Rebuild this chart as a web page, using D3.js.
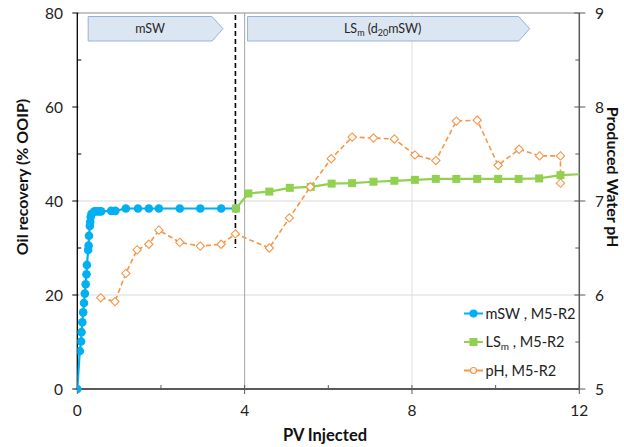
<!DOCTYPE html>
<html>
<head>
<meta charset="utf-8">
<script src="https://cdn.jsdelivr.net/npm/d3@7"></script>
<style>
  html, body { margin: 0; padding: 0; background: #fff; }
  svg { display: block; font-family: Lato, "Open Sans", sans-serif; }
</style>
</head>
<body>
<svg id="chart" width="624" height="447"></svg>
<script>
// PV injected vs. oil recovery (mSW then LSm flood) and produced water pH
const mswPV = [0, 0.06, 0.09, 0.10, 0.12, 0.14, 0.16, 0.18, 0.20, 0.22, 0.23, 0.26, 0.27, 0.28,
  0.30, 0.31, 0.32, 0.34, 0.41, 0.46, 0.52, 0.57, 0.81, 0.91, 1.16, 1.45, 1.71, 1.95, 2.45, 2.94, 3.44, 3.79];
const mswRecovery = [0, 8.1, 10.1, 12.1, 14.2, 16.3, 18.3, 20.3, 22.3, 24.4, 26.4, 29.6, 30.5, 32.6,
  34.7, 35.6, 36.6, 37.3, 37.8, 37.8, 37.8, 37.8, 37.9, 37.9, 38.4, 38.4, 38.4, 38.4, 38.4, 38.4, 38.4, 38.4];

const lsPV = [3.79, 4.09, 4.59, 5.08, 5.58, 6.08, 6.57, 7.08, 7.58, 8.07, 8.57, 9.06, 9.56, 10.06, 10.55, 11.04, 11.55, 12.3];
const lsRecovery = [38.4, 41.6, 42.0, 42.8, 43.0, 43.7, 43.8, 44.1, 44.3, 44.5, 44.7, 44.7, 44.7, 44.7, 44.7, 44.8, 45.5, 45.8];

const phPV = [0.56, 0.90, 1.16, 1.43, 1.71, 1.95, 2.45, 2.94, 3.44, 3.78, 4.59, 5.07, 5.57, 6.07, 6.57,
  7.08, 7.58, 8.07, 8.57, 9.06, 9.56, 10.06, 10.56, 11.05, 11.55, 11.55];
const phValues = [5.97, 5.93, 6.23, 6.48, 6.54, 6.69, 6.56, 6.52, 6.54, 6.65, 6.50, 6.82, 7.15, 7.45, 7.68,
  7.67, 7.66, 7.49, 7.43, 7.85, 7.86, 7.38, 7.55, 7.48, 7.48, 7.19];

const xTicks = [0, 4, 8, 12];
const xMinorTicks = [2, 6, 10];
const yTicks = [0, 20, 40, 60, 80];
const yMinorTicks = [10, 30, 50, 70];
const phTicks = [5, 6, 7, 8, 9];
const phMinorTicks = [5.5, 6.5, 7.5, 8.5];

const slugChange = 3.78;   // PV at which injection switched to LSm

const svg = d3.select("#chart");
const L = 77.3, R = 579.3, T = 13, B = 389;

const x = d3.scaleLinear().domain([0, 12]).range([L, R]);
const y = d3.scaleLinear().domain([0, 80]).range([B, T]);
const yPh = d3.scaleLinear().domain([5, 9]).range([B, T]);

// clip for the plotting area
svg.append("defs").append("clipPath").attr("id", "plotClip")
  .append("rect").attr("x", L).attr("y", T - 6).attr("width", R - L).attr("height", B - T + 12);

// gridlines
const grid = svg.append("g");
grid.selectAll("line.h").data([20, 40]).join("line")
  .attr("x1", L).attr("x2", R).attr("y1", d => y(d)).attr("y2", d => y(d))
  .attr("stroke", "#d9d9d9").attr("stroke-width", 1);
grid.append("line").attr("x1", x(8)).attr("x2", x(8)).attr("y1", T).attr("y2", B)
  .attr("stroke", "#dedede").attr("stroke-width", 1);
grid.append("line").attr("x1", x(4)).attr("x2", x(4)).attr("y1", T).attr("y2", B)
  .attr("stroke", "#a6a6a6").attr("stroke-width", 1);

// top border
svg.append("line").attr("x1", L).attr("x2", R).attr("y1", T).attr("y2", T)
  .attr("stroke", "#8c8c8c").attr("stroke-width", 1);

// phase arrows along the top
function phaseArrow(x0, x1) {
  const g = svg.append("g");
  const y0 = 16.5, y1 = 41, tip = 11;
  g.append("path")
    .attr("d", `M${x0},${y0}H${x1}L${x1 + tip},${(y0 + y1) / 2}L${x1},${y1}H${x0}Z`)
    .attr("fill", "#dce6f2").attr("stroke", "#95b3d7").attr("stroke-width", 1);
  return g.append("text").attr("x", (x0 + x1) / 2).attr("y", (y0 + y1) / 2 + 4.5)
    .attr("text-anchor", "middle").attr("font-size", 12.5).attr("fill", "#262626");
}
phaseArrow(x(0.26), x(3.22)).text("mSW");
const lsLabel = phaseArrow(x(4.07), x(10.55));
lsLabel.attr("x", x(7.3));
lsLabel.append("tspan").text("LS");
lsLabel.append("tspan").attr("font-size", 9).attr("dy", 3).text("m");
lsLabel.append("tspan").attr("dy", -3).text(" (d");
lsLabel.append("tspan").attr("font-size", 9).attr("dy", 3).text("20");
lsLabel.append("tspan").attr("dy", -3).text("mSW)");

// switch marker
svg.append("line").attr("x1", x(slugChange)).attr("x2", x(slugChange))
  .attr("y1", 15).attr("y2", 248)
  .attr("stroke", "#000").attr("stroke-width", 1.6).attr("stroke-dasharray", "5,3");

// axes
const axisColor = "#595959";
// left axis
const left = svg.append("g");
left.append("line").attr("x1", L).attr("x2", L).attr("y1", T).attr("y2", B)
  .attr("stroke", "#000").attr("stroke-width", 1.3);
left.selectAll("line.maj").data(yTicks).join("line")
  .attr("x1", L - 5).attr("x2", L + 1).attr("y1", d => y(d)).attr("y2", d => y(d))
  .attr("stroke", "#000");
left.selectAll("line.min").data(yMinorTicks).join("line")
  .attr("x1", L).attr("x2", L + 4).attr("y1", d => y(d)).attr("y2", d => y(d))
  .attr("stroke", "#000");
left.selectAll("text").data(yTicks).join("text")
  .attr("x", 63).attr("y", d => y(d) + 5.5).attr("text-anchor", "end")
  .attr("font-size", 15.5).attr("fill", "#222").text(d => d);

// right axis
const right = svg.append("g");
right.append("line").attr("x1", R).attr("x2", R).attr("y1", T).attr("y2", B)
  .attr("stroke", axisColor).attr("stroke-width", 1.5);
right.selectAll("line.maj").data(phTicks).join("line")
  .attr("x1", R - 5).attr("x2", R + 6).attr("y1", d => yPh(d)).attr("y2", d => yPh(d))
  .attr("stroke", axisColor);
right.selectAll("line.min").data(phMinorTicks).join("line")
  .attr("x1", R - 4).attr("x2", R).attr("y1", d => yPh(d)).attr("y2", d => yPh(d))
  .attr("stroke", axisColor);
right.selectAll("text").data(phTicks).join("text")
  .attr("x", 595).attr("y", d => yPh(d) + 5.5)
  .attr("font-size", 15.5).attr("fill", "#222").text(d => d);

// bottom axis
const bottom = svg.append("g");
bottom.selectAll("line.maj").data(xTicks).join("line")
  .attr("x1", d => x(d)).attr("x2", d => x(d)).attr("y1", B - 4).attr("y2", B + 5)
  .attr("stroke", axisColor);
bottom.selectAll("line.min").data(xMinorTicks).join("line")
  .attr("x1", d => x(d)).attr("x2", d => x(d)).attr("y1", B - 4).attr("y2", B)
  .attr("stroke", axisColor);
bottom.append("line").attr("x1", L).attr("x2", R).attr("y1", B).attr("y2", B)
  .attr("stroke", axisColor).attr("stroke-width", 2);
bottom.selectAll("text").data(xTicks).join("text")
  .attr("x", d => x(d)).attr("y", 415.5).attr("text-anchor", "middle")
  .attr("font-size", 15.5).attr("fill", "#222").text(d => d);

// axis titles
svg.append("text").attr("x", 325).attr("y", 441).attr("text-anchor", "middle")
  .attr("font-size", 16.5).attr("font-weight", "bold").attr("fill", "#111").text("PV Injected");
svg.append("text").attr("transform", "translate(28,177) rotate(-90)").attr("text-anchor", "middle")
  .attr("font-size", 16).attr("font-weight", "bold").attr("fill", "#111").text("Oil recovery (% OOIP)");
svg.append("text").attr("transform", "translate(607,177) rotate(90)").attr("text-anchor", "middle")
  .attr("font-size", 16).attr("font-weight", "bold").attr("fill", "#111").text("Produced Water pH");

// series
const blue = "#00b0f0", green = "#92d050", orange = "#f79646";
const plot = svg.append("g").attr("clip-path", "url(#plotClip)");
const line = d3.line();

const mswPts = mswPV.map((v, i) => [x(v), y(mswRecovery[i])]);
const lsPts = lsPV.map((v, i) => [x(v), y(lsRecovery[i])]);
const phPts = phPV.map((v, i) => [x(v), yPh(phValues[i])]);

plot.append("path").attr("d", line(phPts)).attr("fill", "none")
  .attr("stroke", orange).attr("stroke-width", 1.6).attr("stroke-dasharray", "5,3");

plot.append("path").attr("d", line(mswPts)).attr("fill", "none")
  .attr("stroke", blue).attr("stroke-width", 2.2);
plot.selectAll("circle.msw").data(mswPts).join("circle")
  .attr("cx", d => d[0]).attr("cy", d => d[1]).attr("r", 4.3).attr("fill", blue);

plot.append("path").attr("d", line(lsPts)).attr("fill", "none")
  .attr("stroke", green).attr("stroke-width", 2.2);
plot.selectAll("rect.ls").data(lsPts).join("rect")
  .attr("x", d => d[0] - 4).attr("y", d => d[1] - 4).attr("width", 8).attr("height", 8)
  .attr("fill", green);

const diamond = d3.symbol().type(d3.symbolDiamond2).size(44);
plot.selectAll("path.ph").data(phPts).join("path")
  .attr("transform", d => `translate(${d[0]},${d[1]})`)
  .attr("d", diamond).attr("fill", "#fff").attr("stroke", orange).attr("stroke-width", 1.1);

// legend
const legend = svg.append("g");
const rows = [
  { color: blue, kind: "circle", y: 313.5, label: ["mSW , M5-R2"] },
  { color: green, kind: "square", y: 342, label: ["LS", "m", " , M5-R2"] },
  { color: orange, kind: "diamond", y: 370.5, label: ["pH, M5-R2"] }
];
rows.forEach(r => {
  legend.append("line").attr("x1", 464).attr("x2", 483).attr("y1", r.y).attr("y2", r.y)
    .attr("stroke", r.color).attr("stroke-width", 2);
  if (r.kind === "circle") {
    legend.append("circle").attr("cx", 473.5).attr("cy", r.y).attr("r", 4).attr("fill", r.color);
  } else if (r.kind === "square") {
    legend.append("rect").attr("x", 469.5).attr("y", r.y - 4).attr("width", 8).attr("height", 8).attr("fill", r.color);
  } else {
    legend.append("circle").attr("cx", 473.5).attr("cy", r.y).attr("r", 3).attr("fill", "#fff")
      .attr("stroke", r.color).attr("stroke-width", 1.2);
  }
  const t = legend.append("text").attr("x", 485.5).attr("y", r.y + 5)
    .attr("font-size", 14.5).attr("fill", "#222");
  if (r.label.length === 1) {
    t.text(r.label[0]);
  } else {
    t.append("tspan").text(r.label[0]);
    t.append("tspan").attr("font-size", 10).attr("dy", 3).text(r.label[1]);
    t.append("tspan").attr("dy", -3).text(r.label[2]);
  }
});
</script>
</body>
</html>
